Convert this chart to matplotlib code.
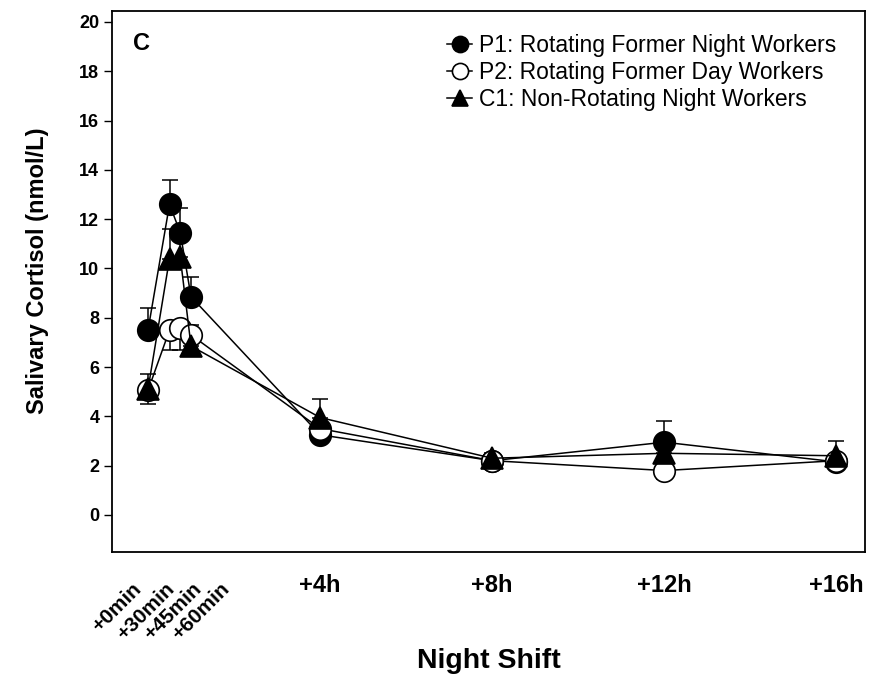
import matplotlib
matplotlib.use('Agg')
import matplotlib.pyplot as plt

plt.rcParams['font.family'] = ['Liberation Sans', 'DejaVu Sans']

# time since start of night shift, hours
times = [0, 0.5, 0.75, 1, 4, 8, 12, 16]
min_labels = ['+0min', '+30min', '+45min', '+60min']
hour_ticks = [4, 8, 12, 16]
hour_labels = ['+4h', '+8h', '+12h', '+16h']

names = ['P1: Rotating Former Night Workers',
         'P2: Rotating Former Day Workers',
         'C1: Non-Rotating Night Workers']
p1 = [7.5, 12.6, 11.45, 8.85, 3.25, 2.2, 2.95, 2.15]
p1_up = [0.9, 1.0, 1.0, 0.8, 0.3, 0.2, 0.85, 0.2]
p2 = [5.05, 7.5, 7.6, 7.3, 3.5, 2.2, 1.8, 2.2]
p2_dn = [0.55, 0.8, 0.9, 0.85, 0.3, 0.2, 0.35, 0.35]
c1 = [5.1, 10.4, 10.45, 6.85, 3.95, 2.3, 2.5, 2.4]
c1_up = [0.6, 1.2, 1.0, 0.85, 0.75, 0.2, 0.6, 0.6]

fig = plt.figure(figsize=(8.74, 6.78), dpi=100)
ax = fig.add_axes([0.128, 0.186, 0.862, 0.798])

zero = [0] * len(times)
series = [
    (p1, [zero, p1_up], 'o', 'black'),
    (p2, [p2_dn, zero], 'o', 'white'),
    (c1, [zero, c1_up], '^', 'black'),
]
for i, (vals, err, mk, fc) in enumerate(series):
    ax.errorbar(times, vals, yerr=err, fmt='none', ecolor='black', elinewidth=1.1,
                capsize=6, capthick=1.1, zorder=2)
    ax.plot(times, vals, color='black', lw=1.1, marker=mk, ms=15.5 if mk == 'o' else 16,
            mfc=fc, mec='black', mew=1.2, label=names[i], zorder=3 + i)

ax.set_xlim(-0.84, 16.67)
ax.set_ylim(-1.5, 20.45)
ax.set_yticks(range(0, 21, 2))
ax.tick_params(axis='y', direction='out', length=6, width=1, labelsize=13, pad=3)
for t in ax.get_yticklabels():
    t.set_fontweight('bold')
ax.set_xticks(hour_ticks)
ax.set_xticklabels(hour_labels, fontsize=17, fontweight='bold')
ax.tick_params(axis='x', length=0, pad=16)
for s in ax.spines.values():
    s.set_linewidth(1.3)

# rotated labels for the first hour
min_x = [-0.38, 0.4, 1.02, 1.67]
for x, lab in zip(min_x, min_labels):
    ax.text(x, -0.05, lab, transform=ax.get_xaxis_transform(), rotation=45,
            rotation_mode='anchor', ha='right', va='top', fontsize=15,
            fontweight='bold')

ax.set_ylabel('Salivary Cortisol (nmol/L)', fontsize=17, fontweight='bold')
ax.yaxis.set_label_coords(-0.084, 0.52)
ax.set_xlabel('Night Shift', fontsize=20.5, fontweight='bold')
ax.xaxis.set_label_coords(0.5, -0.178)

ax.text(0.028, 0.961, 'C', transform=ax.transAxes, fontsize=17, fontweight='bold',
        ha='left', va='top')

ax.legend(loc='upper left', bbox_to_anchor=(0.445, 0.957), frameon=False,
          fontsize=16.5, handlelength=1.1, handletextpad=0.3, labelspacing=0.17,
          markerscale=0.75, borderpad=0, borderaxespad=0)

fig.savefig('out.png', dpi=100, facecolor='white')
